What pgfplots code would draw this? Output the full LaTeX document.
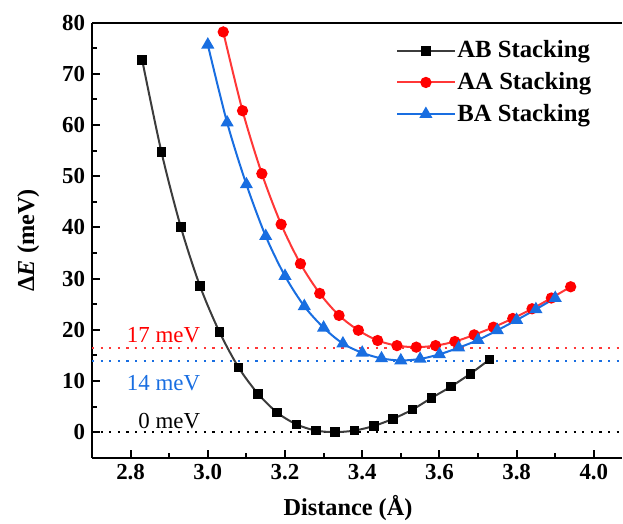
\documentclass[border=0pt]{standalone}
\usepackage{fontspec}
\setmainfont{Liberation Serif}[
    BoldFont={Liberation Serif Bold},
    ItalicFont={Liberation Serif Italic},
    BoldItalicFont={Liberation Serif Bold Italic}]
\usepackage{pgfplots}
\pgfplotsset{compat=1.18}

\definecolor{abgray}{RGB}{60,60,60}
\definecolor{aared}{RGB}{255,0,0}
\definecolor{aaline}{RGB}{255,55,55}
\definecolor{bablue}{RGB}{25,110,225}

\begin{document}
\begin{tikzpicture}
\useasboundingbox (-46bp,-33.15bp) rectangle (265.5bp,228.85bp);
\begin{axis}[
    at={(0,0)}, anchor=south west,
    scale only axis,
    width=265bp, height=217.5bp,
    xmin=2.7, xmax=4.073, ymin=-5, ymax=80,
    axis x line*=box, axis y line*=left,
    y axis line style={-},
    axis line style={line width=1bp},
    every tick/.style={black, line width=1bp},
    xtick={2.8,3.0,3.2,3.4,3.6,3.8,4.0},
    ytick={0,10,20,30,40,50,60,70,80},
    minor x tick num=1, minor y tick num=1,
    xtick pos=bottom, ytick pos=left,
    tick align=inside,
    major tick length=4bp, minor tick length=2.3bp,
    /pgf/number format/assume math mode=true,
    tick label style={font=\fontsize{11.5}{12}\selectfont\bfseries},
    xticklabel style={/pgf/number format/.cd, fixed, fixed zerofill, precision=1},
    xlabel={\textbf{Distance (Å)}},
    ylabel={\textbf{Δ\textit{E} (meV)}},
    label style={font=\fontsize{12.2}{13}\selectfont},
    xlabel style={at={(axis description cs:0.483,-0.115)}, anchor=center},
    ylabel style={at={(axis description cs:-0.12,0.5)}, anchor=center},
    legend style={at={(axis description cs:0.5736,0.964)}, anchor=north west,
        draw=none, fill=none, inner sep=0pt, row sep=3.75bp,
        font=\fontsize{12.4}{13}\selectfont\bfseries,
        nodes={inner sep=1bp}},
    legend cell align=left,
    legend image code/.code={
        \draw[mark repeat=2, mark phase=2, #1]
            plot coordinates {(0bp,0bp) (14.25bp,0bp) (28.5bp,0bp)};},
]

% reference levels
\addplot[forget plot, aaline, line width=1bp, dash pattern=on 1.1bp off 3.2bp]
    coordinates {(2.7,16.45) (4.073,16.45)};
\addplot[forget plot, bablue, line width=1bp, dash pattern=on 1.1bp off 3.2bp]
    coordinates {(2.7,13.8) (4.073,13.8)};
\addplot[forget plot, black, line width=1bp, dash pattern=on 1.1bp off 3.2bp]
    coordinates {(2.7,0) (4.073,0)};

% AB stacking
\addplot[abgray, line width=1bp, smooth, mark=square*, mark size=1.9bp,
    mark options={solid, fill=black, draw=black}] coordinates {
    (2.83,72.7) (2.88,54.7) (2.93,40.1) (2.98,28.5) (3.03,19.6)
    (3.08,12.6) (3.13,7.5) (3.18,3.8) (3.23,1.5) (3.28,0.3)
    (3.33,0.0) (3.38,0.3) (3.43,1.2) (3.48,2.6) (3.53,4.4)
    (3.58,6.7) (3.63,8.9) (3.68,11.4) (3.73,14.2)};
\addlegendentry{AB Stacking}

% AA stacking
\addplot[aaline, line width=1bp, smooth, mark=*, mark size=2.3bp,
    mark options={solid, fill=aared, draw=aared}] coordinates {
    (3.04,78.2) (3.09,62.8) (3.14,50.5) (3.19,40.6) (3.24,32.9)
    (3.29,27.1) (3.34,22.8) (3.39,19.9) (3.44,17.9) (3.49,16.9)
    (3.54,16.6) (3.59,16.9) (3.64,17.7) (3.69,19.0) (3.74,20.5)
    (3.79,22.2) (3.84,24.1) (3.89,26.2) (3.94,28.4)};
\addlegendentry{AA Stacking}

% BA stacking
\addplot[bablue, line width=1bp, smooth, mark=triangle*, mark size=2.8bp,
    mark options={solid, fill=bablue, draw=bablue}] coordinates {
    (3.00,75.7) (3.05,60.5) (3.10,48.4) (3.15,38.3) (3.20,30.5)
    (3.25,24.6) (3.30,20.4) (3.35,17.3) (3.40,15.5) (3.45,14.4)
    (3.50,14.0) (3.55,14.3) (3.60,15.2) (3.65,16.5) (3.70,18.0)
    (3.75,19.9) (3.80,21.9) (3.85,24.0) (3.90,26.2)};
\addlegendentry{BA Stacking}

\node[anchor=east, inner sep=0pt, text=aared, font=\fontsize{11.5}{12}\selectfont]
    at (axis cs:2.981,18.9) {17 meV};
\node[anchor=east, inner sep=0pt, text=bablue, font=\fontsize{11.5}{12}\selectfont]
    at (axis cs:2.981,9.6) {14 meV};
\node[anchor=east, inner sep=0pt, text=black, font=\fontsize{11.5}{12}\selectfont]
    at (axis cs:2.981,2.15) {0 meV};
\end{axis}
\end{tikzpicture}
\end{document}
